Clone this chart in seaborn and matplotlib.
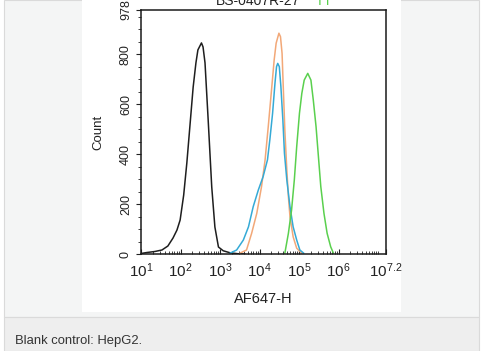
import numpy as np
import pandas as pd
import seaborn as sns
import matplotlib.pyplot as plt
import matplotlib.ticker as ticker
from matplotlib.patches import Rectangle

sns.set_theme(style='ticks')
plt.rcParams['font.family'] = ['Liberation Sans', 'DejaVu Sans']
plt.rcParams['mathtext.default'] = 'regular'

# decade position (log10 of AF647-H) and count
blank_x = [1.0, 1.15, 1.35, 1.53, 1.68, 1.81, 1.91, 1.99, 2.08, 2.16, 2.24, 2.32, 2.39, 2.44,
           2.53, 2.57, 2.62, 2.70, 2.79, 2.87, 2.96, 3.08, 3.25, 3.45, 3.63]
blank_y = [2, 6, 10, 16, 32, 64, 96, 136, 236, 365, 517, 669, 766, 818,
           846, 830, 766, 537, 269, 108, 28, 13, 5, 1, 0]

orange_x = [3.50, 3.67, 3.80, 3.93, 4.05, 4.14, 4.22, 4.31, 4.37, 4.42, 4.49, 4.53, 4.57,
            4.60, 4.64, 4.69, 4.73, 4.77, 4.85, 4.94, 5.07]
orange_y = [3, 16, 83, 163, 270, 377, 510, 670, 778, 845, 885, 871, 804,
            670, 497, 337, 230, 150, 69, 23, 3]

blue_x = [3.25, 3.42, 3.59, 3.72, 3.84, 3.97, 4.09, 4.20, 4.26, 4.33, 4.39, 4.43, 4.46,
          4.50, 4.54, 4.59, 4.63, 4.69, 4.77, 4.85, 4.94, 5.02, 5.12]
blue_y = [3, 16, 56, 109, 190, 257, 310, 377, 457, 564, 684, 751, 764,
          751, 671, 537, 404, 297, 190, 109, 56, 16, 3]

green_x = [4.64, 4.73, 4.81, 4.88, 4.94, 5.01, 5.07, 5.13, 5.22, 5.30, 5.36, 5.43, 5.49,
           5.55, 5.63, 5.71, 5.80, 5.87]
green_y = [3, 83, 176, 297, 430, 564, 644, 697, 724, 697, 617, 510, 390,
           270, 163, 83, 29, 3]

x_decades = [1, 2, 3, 4, 5, 6, 7.2]
y_ticks = [0, 200, 400, 600, 800, 978]

frames = []
for name, xs, ys in [('blank', blank_x, blank_y), ('orange', orange_x, orange_y),
                     ('blue', blue_x, blue_y), ('green', green_x, green_y)]:
    frames.append(pd.DataFrame({'sample': name, 'AF647-H': 10 ** np.array(xs), 'Count': ys}))
df = pd.concat(frames, ignore_index=True)

palette = {'blank': '#1e1e1e', 'orange': '#f2a878', 'blue': '#35aad6', 'green': '#5ad04e'}

W, H = 483, 351
fig = plt.figure(figsize=(W / 100, H / 100), dpi=100, facecolor='white')

# page background
fig.patches.append(Rectangle((4 / W, 1 - 317 / H), 475 / W, 317 / H, transform=fig.transFigure,
                             facecolor='#f4f5f5', edgecolor='#dadada', lw=0.8, zorder=-3))
fig.patches.append(Rectangle((82 / W, 1 - 312 / H), 319 / W, 312 / H, transform=fig.transFigure,
                             facecolor='white', edgecolor='none', zorder=-2))
fig.patches.append(Rectangle((4 / W, 0), 475 / W, 34 / H, transform=fig.transFigure,
                             facecolor='#eeeeee', edgecolor='#dadada', lw=0.8, zorder=-2))
fig.text(15 / W, 1 - 341 / H, 'Blank control: HepG2.', fontsize=9.4, color='#333333',
         va='center', ha='left')

ax = fig.add_axes([141 / W, 1 - 254 / H, 245 / W, 244 / H])
ax.set_facecolor('none')
sns.lineplot(data=df, x='AF647-H', y='Count', hue='sample', palette=palette,
             hue_order=['blank', 'orange', 'blue', 'green'], estimator=None, sort=False,
             linewidth=1.1, legend=False, ax=ax)

ax.set_xscale('log')
ax.set_xlim(10 ** 1, 10 ** 7.2)
ax.set_ylim(0, 978)
ax.xaxis.set_major_locator(ticker.FixedLocator([10 ** d for d in x_decades]))
ax.xaxis.set_major_formatter(ticker.FixedFormatter(
    [r'$10^{%s}$' % (int(d) if d == int(d) else d) for d in x_decades]))
ax.xaxis.set_minor_locator(ticker.LogLocator(base=10, subs=np.arange(1, 10), numticks=20))
ax.xaxis.set_minor_formatter(ticker.NullFormatter())
ax.set_yticks(y_ticks)
ax.yaxis.set_minor_locator(ticker.MultipleLocator(50))

for s in ax.spines.values():
    s.set_visible(True)
    s.set_color('#1a1a1a')
    s.set_linewidth(1.1)

ax.tick_params(axis='x', which='major', direction='in', length=3.5, width=0.8,
               labelsize=11, pad=5, colors='#222222')
ax.tick_params(axis='x', which='minor', direction='in', length=2, width=0.6, colors='#222222')
ax.tick_params(axis='y', which='major', direction='out', length=3.5, width=0.8,
               labelsize=9, pad=3, colors='#222222')
ax.tick_params(axis='y', which='minor', direction='out', length=2, width=0.6, colors='#222222')
for lab in ax.get_yticklabels():
    lab.set_rotation(90)
    lab.set_va('center')

ax.set_xlabel('AF647-H', fontsize=10.5, color='#222222', labelpad=9)
ax.set_ylabel('Count', fontsize=9.5, color='#222222', labelpad=11)

# title cut off at the top of the picture
fig.text(258 / W, 1 - 5 / H, 'BS-0407R-27', fontsize=10, color='#222222', ha='center', va='baseline')
fig.text(324 / W, 1 - 5 / H, 'I I', fontsize=10, color='#5ad04e', ha='center', va='baseline')

fig.savefig('out.png', dpi=100)
